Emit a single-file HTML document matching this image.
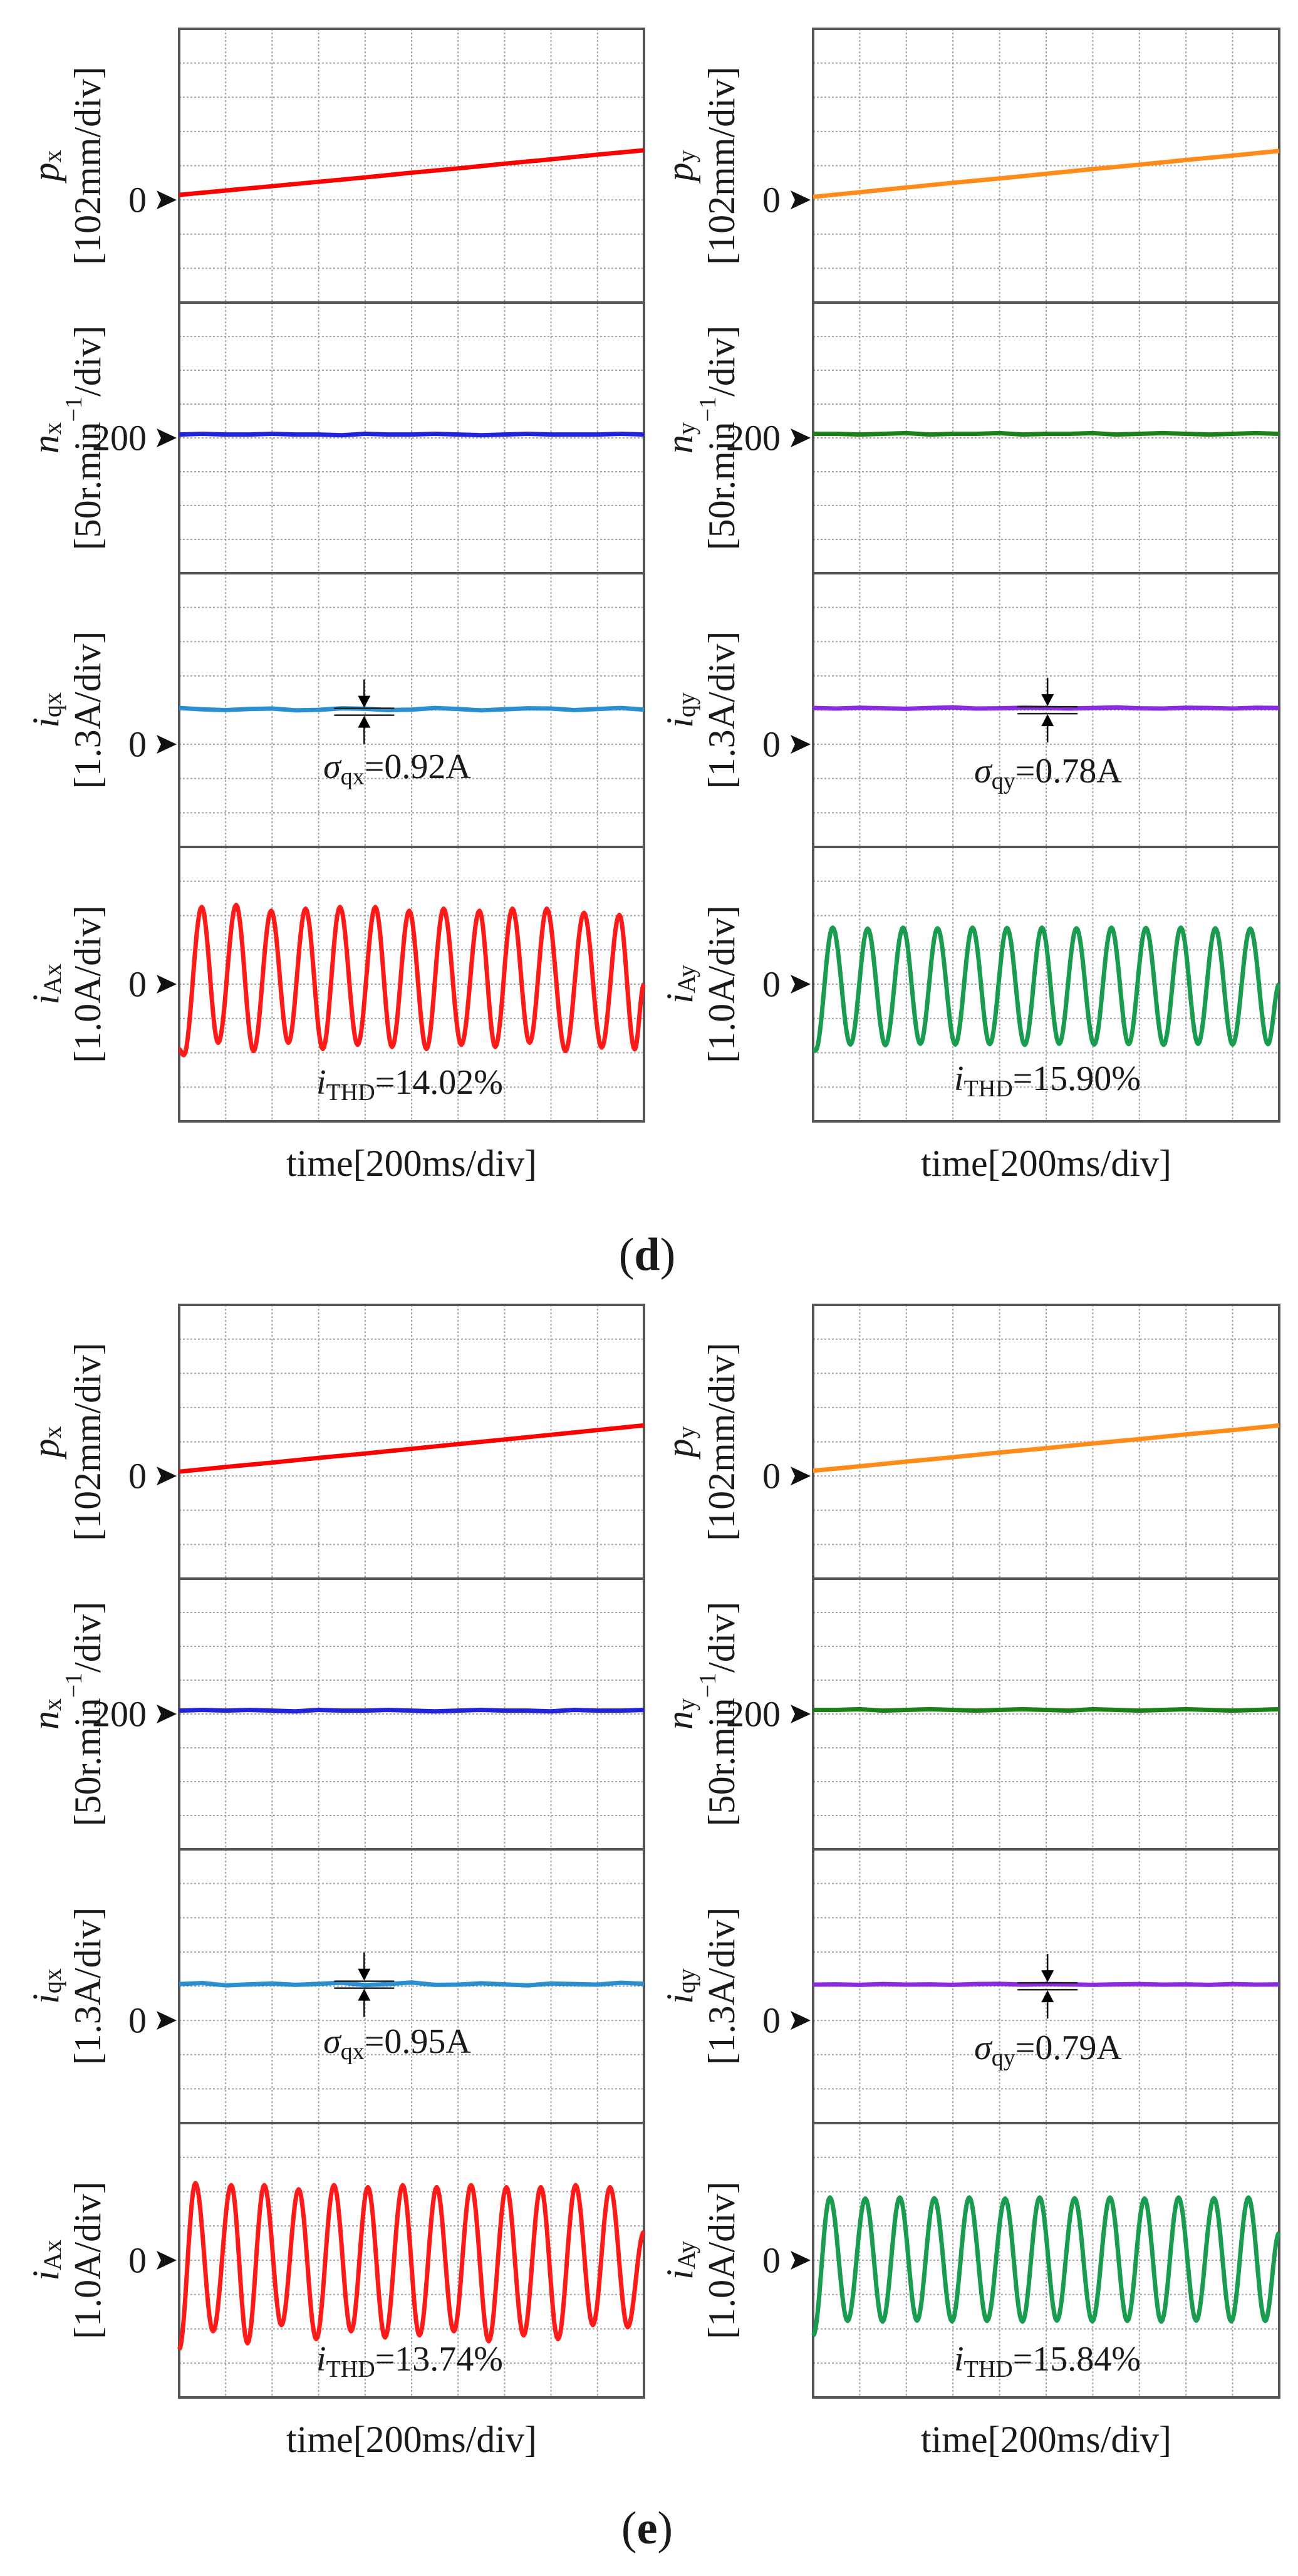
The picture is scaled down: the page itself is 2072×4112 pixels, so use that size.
<!DOCTYPE html>
<html><head><meta charset="utf-8"><title>Scope traces (d) and (e)</title>
<style>
html,body{margin:0;padding:0;background:#fff;}
svg{display:block;}
text{font-family:"Liberation Serif",serif;fill:#1a1a1a;}
</style></head>
<body>
<svg id="fig" xmlns="http://www.w3.org/2000/svg" width="2072" height="4112" viewBox="0 0 2072 4112"></svg>
<script>
// ===== data (values in physical units; time in divisions 0..10) =====
const pxD = [15, 28, 41, 54, 67, 81, 94, 108, 121, 135, 148];
const pyD = [9, 23, 37, 51, 64, 78, 92, 105, 119, 132, 146];
const pxE = [13, 27, 40, 54, 67, 81, 95, 109, 123, 137, 151];
const pyE = [16, 29, 43, 56, 70, 83, 97, 110, 124, 137, 151];
const nxD = [205,206,205,205,206,205,205,204,206,205,205,206,205,204,205,206,205,205,205,206,205];
const nyD = [206,206,205,206,207,205,206,206,207,205,206,206,207,205,206,207,206,205,206,207,206];
const nxE = [205,206,205,206,205,204,206,205,205,206,205,204,205,206,205,205,204,206,205,205,206];
const nyE = [206,206,207,205,206,207,206,205,206,207,206,205,207,206,205,206,207,206,205,206,207];
const iqxD = [1.38,1.33,1.30,1.34,1.36,1.29,1.31,1.37,1.35,1.30,1.32,1.38,1.34,1.29,1.33,1.37,1.36,1.30,1.34,1.38,1.32];
const iqyD = [1.38,1.36,1.39,1.37,1.35,1.38,1.40,1.36,1.37,1.39,1.38,1.36,1.38,1.40,1.37,1.36,1.39,1.38,1.36,1.39,1.38];
const iqxE = [1.38,1.42,1.33,1.37,1.40,1.35,1.39,1.43,1.34,1.38,1.44,1.35,1.36,1.41,1.37,1.33,1.40,1.38,1.36,1.43,1.39];
const iqyE = [1.36,1.37,1.35,1.38,1.36,1.37,1.35,1.38,1.39,1.36,1.38,1.37,1.35,1.37,1.38,1.36,1.37,1.35,1.38,1.36,1.37];
const iAxTD = [0,0.10,0.485,0.84,1.226,1.60,1.98,2.35,2.72,3.09,3.46,3.84,4.22,4.58,4.95,5.32,5.69,6.07,6.46,6.80,7.17,7.54,7.91,8.31,8.71,9.09,9.47,9.80,10];
const iAxVD = [-1.90,-2.07,2.25,-1.71,2.31,-1.95,2.14,-1.71,2.20,-1.89,2.25,-1.77,2.25,-1.83,2.14,-1.89,2.20,-1.77,2.14,-1.83,2.20,-1.71,2.20,-1.95,2.08,-1.85,2.02,-1.90,0.0];
const iAyTD = [0,0.05,0.42,0.80,1.17,1.55,1.93,2.30,2.67,3.05,3.42,3.79,4.16,4.54,4.91,5.28,5.65,6.03,6.40,6.77,7.14,7.52,7.89,8.26,8.63,9.00,9.38,9.76,10];
const iAyVD = [-1.90,-1.94,1.65,-1.76,1.62,-1.78,1.65,-1.74,1.63,-1.76,1.65,-1.75,1.64,-1.77,1.65,-1.74,1.63,-1.76,1.65,-1.75,1.64,-1.77,1.65,-1.74,1.63,-1.76,1.62,-1.75,0.0];
const iAxTE = [0,0.35,0.73,1.12,1.47,1.83,2.20,2.57,2.95,3.33,3.70,4.06,4.43,4.81,5.17,5.54,5.91,6.28,6.66,7.04,7.41,7.78,8.15,8.53,8.90,9.27,9.65,10];
const iAxVE = [-2.60,2.25,-2.07,2.19,-2.42,2.19,-1.89,2.07,-2.30,2.19,-2.07,2.13,-2.25,2.19,-2.19,2.13,-2.07,2.19,-2.36,2.13,-2.19,2.13,-2.30,2.19,-1.89,2.13,-1.95,0.83];
const iAyTE = [0,0.36,0.74,1.12,1.49,1.86,2.23,2.60,2.98,3.35,3.73,4.12,4.49,4.86,5.23,5.61,5.99,6.37,6.74,7.11,7.47,7.84,8.22,8.60,8.97,9.34,9.70,10];
const iAyVE = [-2.20,1.83,-1.77,1.80,-1.79,1.83,-1.76,1.81,-1.78,1.83,-1.77,1.80,-1.79,1.83,-1.76,1.81,-1.78,1.83,-1.77,1.80,-1.79,1.83,-1.76,1.81,-1.78,1.83,-1.77,0.80];
const sigmaD = ["0.92A", "0.78A"];
const sigmaE = ["0.95A", "0.79A"];
const thdD = ["14.02%", "15.90%"];
const thdE = ["13.74%", "15.84%"];
const zeroLabels = ["0", "200", "0", "0"];

// ===== layout =====
const NS = "http://www.w3.org/2000/svg";
const svg = document.getElementById('fig');
const colX = [286, 1298], colW = [742, 744];
const secTop = [46, 2083];
const panelH = [437, 432, 437, 438];
const zeroDiv = [5, 4, 5, 4];
const unitPerDiv = [102, 50, 1.3, 1.0];
const zeroVal = [0, 200, 0, 0];

function mk(tag, attrs, parent) {
  const e = document.createElementNS(NS, tag);
  for (const k in attrs) e.setAttribute(k, attrs[k]);
  (parent || svg).appendChild(e);
  return e;
}
function panelTop(s, p) { let t = secTop[s]; for (let i = 0; i < p; i++) t += panelH[i]; return t; }
function xAt(c, t) { return colX[c] + t / 10 * colW[c]; }
function yAt(s, p, v) { const d = panelH[p] / 8; return panelTop(s, p) + zeroDiv[p] * d - (v - zeroVal[p]) / unitPerDiv[p] * d; }

function drawGrid(s, c, p) {
  const g = mk('g', {});
  
  
  const top = panelTop(s, p), h = panelH[p], x0 = colX[c], w = colW[c];
  for (let i = 1; i < 10; i++) { const x = x0 + i * w / 10; mk('line', {x1: x, y1: top, x2: x, y2: top + h, stroke: '#a5a5a5', 'stroke-width': 2, 'stroke-dasharray': '3 3'}, g); }
  for (let j = 1; j < 8; j++) { const y = top + j * h / 8; mk('line', {x1: x0, y1: y, x2: x0 + w, y2: y, stroke: '#a5a5a5', 'stroke-width': 2, 'stroke-dasharray': '3 3'}, g); }
  mk('rect', {x: x0, y: top, width: w, height: h, fill: 'none', stroke: '#555', 'stroke-width': 4}, g);
}
function drawEven(s, c, p, arr, color, sw, name) {
  let pts = [];
  for (let i = 0; i < arr.length; i++) pts.push(xAt(c, i * 10 / (arr.length - 1)).toFixed(1) + ',' + yAt(s, p, arr[i]).toFixed(1));
  const pl = mk('polyline', {points: pts.join(' '), fill: 'none', stroke: color, 'stroke-width': sw, 'stroke-linejoin': 'round'});
  
  
}
function drawWave(s, c, p, T, V, color, name) {
  let pts = [];
  for (let i = 0; i < T.length - 1; i++) {
    const n = 14;
    for (let k = 0; k < n; k++) {
      const f = k / n, v = V[i] + (V[i + 1] - V[i]) * (1 - Math.cos(Math.PI * f)) / 2;
      const t = T[i] + (T[i + 1] - T[i]) * f;
      pts.push(xAt(c, t).toFixed(1) + ',' + yAt(s, p, v).toFixed(1));
    }
  }
  pts.push(xAt(c, T[T.length - 1]).toFixed(1) + ',' + yAt(s, p, V[V.length - 1]).toFixed(1));
  const pl = mk('polyline', {points: pts.join(' '), fill: 'none', stroke: color, 'stroke-width': 7, 'stroke-linejoin': 'round'});
  
  
}
function zeroMarker(s, c, p) {
  const y = yAt(s, p, zeroVal[p]), x = colX[c];
  const t = mk('text', {x: x - 52, y: y, 'font-size': 58, 'text-anchor': 'end', 'dominant-baseline': 'central'});
  t.textContent = zeroLabels[p];
  
  
  const a = mk('polygon', {points: (x - 36) + ',' + (y - 15) + ' ' + (x - 4) + ',' + y + ' ' + (x - 36) + ',' + (y + 15) + ' ' + (x - 29) + ',' + y, fill: '#111'});
  
  
}
function yLabel(s, c, p, sym, sub, unitParts) {
  const cy = panelTop(s, p) + panelH[p] / 2;
  const x1 = colX[c] - 213, x2 = colX[c] - 146;
  const t1 = mk('text', {transform: 'translate(' + x1 + ',' + cy + ') rotate(-90)', 'text-anchor': 'middle', 'dominant-baseline': 'central', 'font-size': 60});
  
  
  const a = mk('tspan', {'font-style': 'italic'}, t1); a.textContent = sym;
  const b = mk('tspan', {'font-size': 40, dy: 10}, t1); b.textContent = sub;
  const t2 = mk('text', {transform: 'translate(' + x2 + ',' + cy + ') rotate(-90)', 'text-anchor': 'middle', 'dominant-baseline': 'central', 'font-size': 60});
  
  
  for (const u of unitParts) {
    const ts = mk('tspan', u.sup ? {'font-size': 38, dy: -22} : (u.after ? {dy: 22} : {}), t2);
    ts.textContent = u.t;
  }
}
function sigmaAnno(s, c, tDiv, yv, label, textX, textY, sub) {
  const x = xAt(c, tDiv), y1 = yAt(s, 2, yv) - 2, y2 = y1 + 11;
  const g = mk('g', {});
  
  
  mk('line', {x1: x - 48, y1: y1, x2: x + 48, y2: y1, stroke: '#222', 'stroke-width': 2.5}, g);
  mk('line', {x1: x - 48, y1: y2, x2: x + 48, y2: y2, stroke: '#222', 'stroke-width': 2.5}, g);
  mk('line', {x1: x, y1: y1 - 46, x2: x, y2: y1 - 14, stroke: '#111', 'stroke-width': 2.5}, g);
  mk('polygon', {points: (x - 10) + ',' + (y1 - 20) + ' ' + (x + 10) + ',' + (y1 - 20) + ' ' + x + ',' + (y1 - 1)}, g);
  mk('line', {x1: x, y1: y2 + 14, x2: x, y2: y2 + 46, stroke: '#111', 'stroke-width': 2.5}, g);
  mk('polygon', {points: (x - 10) + ',' + (y2 + 20) + ' ' + (x + 10) + ',' + (y2 + 20) + ' ' + x + ',' + (y2 + 1)}, g);
  const t = mk('text', {x: textX, y: textY, 'font-size': 56, 'text-anchor': 'middle'});
  
  
  const a = mk('tspan', {'font-style': 'italic'}, t); a.textContent = 'σ';
  const b = mk('tspan', {'font-size': 38, dy: 10}, t); b.textContent = sub;
  const d = mk('tspan', {dy: -10}, t); d.textContent = '=' + label;
}
function thdLabel(x, y, val) {
  const t = mk('text', {x: x, y: y, 'font-size': 56, 'text-anchor': 'middle'});
  
  
  const a = mk('tspan', {'font-style': 'italic'}, t); a.textContent = 'i';
  const b = mk('tspan', {'font-size': 38, dy: 10}, t); b.textContent = 'THD';
  const d = mk('tspan', {dy: -10}, t); d.textContent = '=' + val;
}

const P = {
  px: [pxD, pxE], py: [pyD, pyE], nx: [nxD, nxE], ny: [nyD, nyE],
  iqx: [iqxD, iqxE], iqy: [iqyD, iqyE],
  iAxT: [iAxTD, iAxTE], iAxV: [iAxVD, iAxVE], iAyT: [iAyTD, iAyTE], iAyV: [iAyVD, iAyVE]
};
const sig = [sigmaD, sigmaE], thd = [thdD, thdE];
const sigY = [[1242, 1249], [3277, 3287]], thdY = [[1746, 1740], [3784, 3784]];
const timeY = [1877, 3914], capY = [2027, 4060], caps = ['d', 'e'];

for (let s = 0; s < 2; s++) {
  for (let c = 0; c < 2; c++) {
    for (let p = 0; p < 4; p++) { drawGrid(s, c, p); }
    const ax = c === 0 ? 'x' : 'y';
    drawEven(s, c, 0, c === 0 ? P.px[s] : P.py[s], c === 0 ? '#ff0000' : '#ff8c1a', 7, 'position-trace-' + ax);
    drawEven(s, c, 1, c === 0 ? P.nx[s] : P.ny[s], c === 0 ? '#2222dd' : '#1a801a', 7, 'speed-trace-' + ax);
    drawEven(s, c, 2, c === 0 ? P.iqx[s] : P.iqy[s], c === 0 ? '#2a8fd0' : '#8a2be2', 7, 'iq-trace-' + ax);
    drawWave(s, c, 3, c === 0 ? P.iAxT[s] : P.iAyT[s], c === 0 ? P.iAxV[s] : P.iAyV[s], c === 0 ? '#ff1a1a' : '#1a9c50', 'phase-current-trace-' + ax);
    for (let p = 0; p < 4; p++) zeroMarker(s, c, p);
    yLabel(s, c, 0, 'p', ax, [{t: '[102mm/div]'}]);
    yLabel(s, c, 1, 'n', ax, [{t: '[50r.min'}, {t: '−1', sup: true}, {t: '/div]', after: true}]);
    yLabel(s, c, 2, 'i', 'q' + ax, [{t: '[1.3A/div]'}]);
    yLabel(s, c, 3, 'i', 'A' + ax, [{t: '[1.0A/div]'}]);
    const arr = c === 0 ? P.iqx[s] : P.iqy[s];
    sigmaAnno(s, c, c === 0 ? 3.98 : 5.03, arr[10], sig[s][c], c === 0 ? 634 : 1673, sigY[s][c], 'q' + ax);
    thdLabel(c === 0 ? 654 : 1672, thdY[s][c], thd[s][c]);
    const tl = mk('text', {x: colX[c] + colW[c] / 2, y: timeY[s], 'font-size': 60, 'text-anchor': 'middle'});
    tl.textContent = 'time[200ms/div]';
    
    
  }
  const cap = mk('text', {x: 1033, y: capY[s], 'font-size': 74, 'text-anchor': 'middle'});
  
  
  const c1 = mk('tspan', {}, cap); c1.textContent = '(';
  const c2 = mk('tspan', {'font-weight': 'bold'}, cap); c2.textContent = caps[s];
  const c3 = mk('tspan', {}, cap); c3.textContent = ')';
}
</script>
</body></html>
